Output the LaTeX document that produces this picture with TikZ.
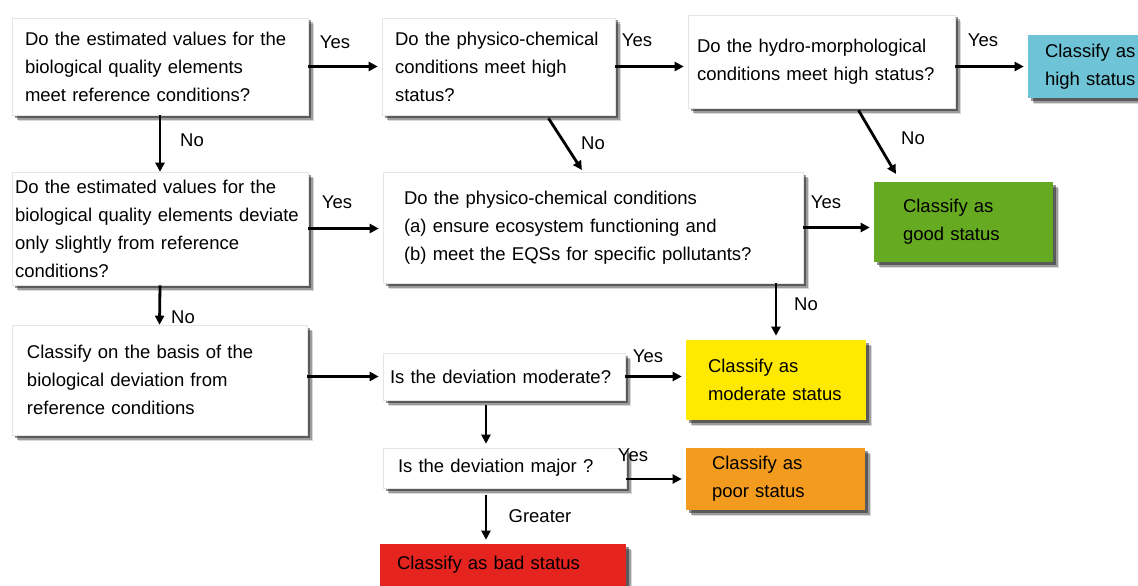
\documentclass[tikz,border=0pt]{standalone}
\usepackage{fontspec}
\setmainfont{Liberation Sans}
\usetikzlibrary{arrows.meta,shadows,calc}

\definecolor{highblue}{HTML}{6EC3D7}
\definecolor{goodgreen}{HTML}{66AA22}
\definecolor{modyellow}{HTML}{FFE900}
\definecolor{poororange}{HTML}{F29B1F}
\definecolor{badred}{HTML}{E5231F}

\tikzset{
  box/.style={rectangle, fill=white, draw=black!10, line width=0.6pt, align=left, inner ysep=0pt,
    font=\fontsize{18.5}{28}\selectfont,
    drop shadow={shadow xshift=6pt, shadow yshift=-6pt, opacity=0.15, fill=black},
    drop shadow={shadow xshift=4.5pt, shadow yshift=-4.5pt, opacity=0.28, fill=black},
    drop shadow={shadow xshift=2.5pt, shadow yshift=-2.5pt, opacity=0.42, fill=black}},
  result/.style={box, draw=none, fill=#1},
  lbl/.style={font=\fontsize{18.5}{22}\selectfont, inner sep=0pt},
  arr/.style={-{Triangle[length=9pt,width=9pt]}, line width=2.8pt, shorten >=4pt},
}

\begin{document}
\begin{tikzpicture}[x=1pt,y=-1pt]
  \fill[white] (0,0) rectangle (1138,586);
  \useasboundingbox (0,0) rectangle (1138,586);
  \clip (0,0) rectangle (1138,586);

  \path (160,66.5) node[box, minimum height=97pt, text width=270pt, inner xsep=13pt] (refcond)
      {Do the estimated values for the\\biological quality elements\\meet reference conditions?}
    (498.5,66.5) node[box, minimum height=97pt, text width=207pt, inner xsep=13pt] (physhigh)
      {Do the physico-chemical\\conditions meet high\\status?}
    (821.5,61.5) node[box, minimum height=93pt, text width=249pt, inner xsep=9pt] (hydro)
      {Do the hydro-morphological\\conditions meet high status?}
    (1094,66.5) node[result=highblue, minimum height=63pt, text width=98pt, inner xsep=17pt] (high)
      {Classify as\\high status}
    (160,228.5) node[box, minimum height=113pt, text width=290pt, inner xsep=3pt] (slight)
      {Do the estimated values for the\\biological quality elements deviate\\only slightly from reference\\conditions?}
    (593,227.5) node[box, minimum height=111pt, text width=378pt, inner xsep=21pt] (physgood)
      {Do the physico-chemical conditions\\(a) ensure ecosystem functioning and\\(b) meet the EQSs for specific pollutants?}
    (963.5,222) node[result=goodgreen, minimum height=80pt, text width=121pt, inner xsep=29pt] (good)
      {Classify as\\good status}
    (159.5,380) node[box, minimum height=110pt, text width=265pt, inner xsep=15pt] (basis)
      {Classify on the basis of the\\biological deviation from\\reference conditions}
    (504,376.5) node[box, minimum height=47pt, text width=228pt, inner xsep=7pt] (moddev)
      {Is the deviation moderate?}
    (776,380) node[result=modyellow, minimum height=80pt, text width=136pt, inner xsep=22pt] (moderate)
      {Classify as\\moderate status}
    (504.5,468) node[box, minimum height=40pt, text width=213pt, inner xsep=15pt] (majdev)
      {Is the deviation major ?}
    (775.5,479) node[result=poororange, minimum height=62pt, text width=127pt, inner xsep=26pt] (poor)
      {Classify as\\poor status}
    (503,565) node[result=badred, minimum height=42pt, text width=212pt, inner xsep=17pt] (bad)
      {Classify as bad status};

  % answers
  \path (335,42) node[lbl] (yes1) {Yes}
    (637,40) node[lbl] (yes2) {Yes}
    (983,40) node[lbl] (yes3) {Yes}
    (192,140) node[lbl] (no1) {No}
    (593,143) node[lbl] (no2) {No}
    (913,138) node[lbl] (no3) {No}
    (337,202) node[lbl] (yes4) {Yes}
    (826,202) node[lbl] (yes5) {Yes}
    (183,317) node[lbl] (no4) {No}
    (806,304) node[lbl] (no5) {No}
    (648,356) node[lbl] (yes6) {Yes}
    (633,455) node[lbl] (yes7) {Yes}
    (540,516) node[lbl] (greater) {Greater};

  \draw[arr] (refcond.east) -- (refcond.east -| physhigh.west);
  \draw[arr] (physhigh.east) -- (physhigh.east -| hydro.west);
  \draw[arr] (high.west -| hydro.east) -- (high.west);
  \draw[arr, shorten >=0pt] (refcond.south) -- (slight.north);
  \draw[arr, shorten >=2pt] ([xshift=50pt,yshift=-3pt]physhigh.south) -- ([xshift=-10pt]physgood.north);
  \draw[arr, shorten >=9pt] ([xshift=37pt,yshift=-2pt]hydro.south) -- ([xshift=-63pt]good.north);
  \draw[arr] (slight.east) -- (slight.east -| physgood.west);
  \draw[arr] (physgood.east) -- (physgood.east -| good.west);
  \draw[arr, shorten >=0pt] (slight.south) -- (basis.north);
  \draw[arr] (physgood.south -| moderate.north) -- (moderate.north);
  \draw[arr] (basis.east |- moddev.west) -- (moddev.west);
  \draw[arr] (moddev.east) -- (moddev.east -| moderate.west);
  \draw[arr] ([xshift=-18pt,yshift=-5pt]moddev.south) -- ([xshift=-18.5pt]majdev.north);
  \draw[arr] (poor.west -| majdev.east) -- (poor.west);
  \draw[arr] ([xshift=-18.5pt,yshift=-7pt]majdev.south) -- ([xshift=-17pt]bad.north);
\end{tikzpicture}
\end{document}
